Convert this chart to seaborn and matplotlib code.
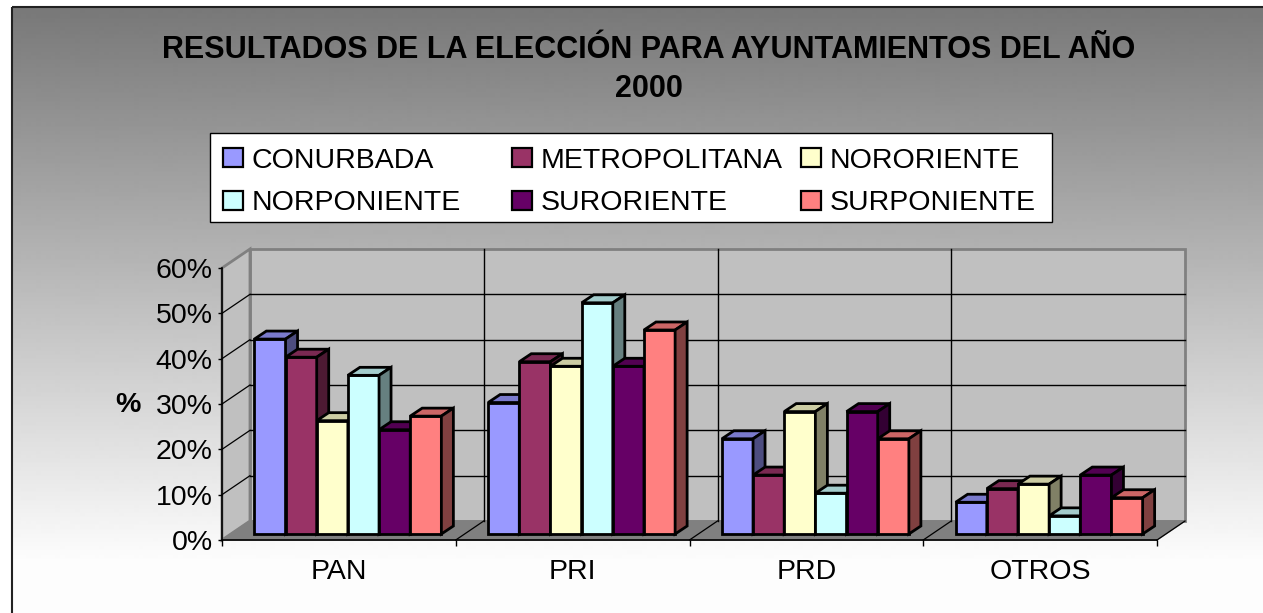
import numpy as np
import pandas as pd
import matplotlib
matplotlib.use("Agg")
import matplotlib.pyplot as plt
from matplotlib.patches import Polygon, Rectangle
from matplotlib.transforms import Affine2D
from matplotlib.colors import to_rgb
import seaborn as sns

plt.rcParams['font.family'] = ['Liberation Sans', 'DejaVu Sans']

# datos (%)
partidos = ["PAN", "PRI", "PRD", "OTROS"]
regiones = ["CONURBADA", "METROPOLITANA", "NORORIENTE",
            "NORPONIENTE", "SURORIENTE", "SURPONIENTE"]
conurbada = [43, 29, 21, 7]
metropolitana = [39, 38, 13, 10]
nororiente = [25, 37, 27, 11]
norponiente = [35, 51, 9, 4]
suroriente = [23, 37, 27, 13]
surponiente = [26, 45, 21, 8]
colores = ["#9999FF", "#993366", "#FFFFCC", "#CCFFFF", "#660066", "#FF8080"]
yticks = [0, 10, 20, 30, 40, 50, 60]
titulo = ["RESULTADOS DE LA ELECCIÓN PARA AYUNTAMIENTOS DEL AÑO", "2000"]

valores = [conurbada, metropolitana, nororiente, norponiente, suroriente, surponiente]
df = pd.DataFrame([(p, r, v[i]) for r, v in zip(regiones, valores)
                   for i, p in enumerate(partidos)],
                  columns=["partido", "region", "valor"])

FS = 20.5
W, H = 1263, 613
fig = plt.figure(figsize=(W / 100, H / 100), dpi=100)

# fondo con degradado, en pixeles
bg = fig.add_axes([0, 0, 1, 1])
filas = np.arange(7, H)
grad = np.clip(0.47 + 0.52 * (filas - 7) / 553, 0, 0.99)
bg.imshow(grad[:, None], cmap="gray", vmin=0, vmax=1, aspect="auto",
          extent=[12, W, H, 7], interpolation="bilinear")
bg.set_xlim(0, W)
bg.set_ylim(H, 0)
bg.axis("off")
bg.add_patch(Rectangle((12, 7), W, H, fill=False, ec="#222222", lw=1.5))

# titulo
bg.text(649, 58, titulo[0], ha="center", va="baseline", fontsize=22, fontweight="bold")
bg.text(649, 97, titulo[1], ha="center", va="baseline", fontsize=22, fontweight="bold")

# leyenda
bg.add_patch(Rectangle((210, 133), 842, 89, fc="white", ec="black", lw=1))
col_x = [223, 512, 801]
fila_y = [157.5, 200.5]
for k, (reg, c) in enumerate(zip(regiones, colores)):
    mx = col_x[k % 3]
    cy = fila_y[k // 3]
    bg.add_patch(Rectangle((mx, cy - 9.5), 20, 19, fc=c, ec="black", lw=1.6))
    bg.text(mx + 28.5, cy + 10, reg, ha="left", va="baseline", fontsize=FS)

# ejes principales: plano frontal
ax = fig.add_axes([222 / W, 73 / H, 935 / W, 272 / H])
ax.patch.set_alpha(0)
sns.barplot(data=df, x="partido", y="valor", hue="region", order=partidos,
            hue_order=regiones, palette=colores, saturation=1, width=0.8,
            edgecolor="black", linewidth=2, legend=False, ax=ax)
ax.set_xlim(-0.5, 3.5)
ax.set_ylim(0, 60)
barras = sorted(ax.patches, key=lambda p: p.get_x())

ux, uy = 935 / 4, 272 / 60
fx, fy = 28 / ux, 19 / uy      # profundidad de las paredes
sx, sy = 9 / ux, 6 / uy        # posicion de las barras en profundidad
bx, by = 12 / ux, 8 / uy       # grosor de las barras

# paredes y piso
ax.add_patch(Rectangle((-0.5 + fx, fy), 4, 60, fc="#C0C0C0", ec="#808080",
                       lw=2, zorder=0.2, clip_on=False))
ax.add_patch(Polygon([(-0.5, 0), (-0.5, 60), (-0.5 + fx, 60 + fy), (-0.5 + fx, fy)],
                     fc="#C0C0C0", ec="#808080", lw=2, zorder=0.2, clip_on=False))
ax.add_patch(Polygon([(-0.5, 0), (3.5, 0), (3.5 + fx, fy), (-0.5 + fx, fy)],
                     fc="#808080", ec="#808080", lw=1, zorder=0.25, clip_on=False))
for v in yticks[1:-1]:
    ax.plot([-0.5 + fx, 3.5 + fx], [v + fy, v + fy], color="black", lw=1, zorder=0.3, clip_on=False)
    ax.plot([-0.5, -0.5 + fx], [v, v + fy], color="black", lw=0.9, zorder=0.3, clip_on=False)
for xb in [0.5, 1.5, 2.5]:
    ax.plot([xb + fx, xb + fx], [fy, 60 + fy], color="black", lw=1, zorder=0.3, clip_on=False)
    ax.plot([xb, xb + fx], [0, fy], color="black", lw=0.9, zorder=0.3, clip_on=False)
ax.plot([3.5, 3.5 + fx], [0, fy], color="black", lw=0.9, zorder=0.3, clip_on=False)

# barras en 3D
for j, p in enumerate(barras):
    z = 10 + 3 * j
    rgb = np.array(to_rgb(p.get_facecolor()))
    x0 = p.get_x() + sx
    x1 = x0 + p.get_width()
    y0 = sy
    y1 = sy + p.get_height()
    p.set_transform(Affine2D().translate(sx, sy) + ax.transData)
    p.set_zorder(z)
    p.set_clip_on(False)
    ax.add_patch(Polygon([(x0, y1), (x1, y1), (x1 + bx, y1 + by), (x0 + bx, y1 + by)],
                         fc=rgb * 0.8, ec="black", lw=2, zorder=z + 1, clip_on=False))
    ax.add_patch(Polygon([(x1, y0), (x1 + bx, y0 + by), (x1 + bx, y1 + by), (x1, y1)],
                         fc=rgb * 0.5, ec="black", lw=2, zorder=z + 1, clip_on=False))

# ejes
for s in ["top", "right"]:
    ax.spines[s].set_visible(False)
for s in ["left", "bottom"]:
    ax.spines[s].set_color("black")
    ax.spines[s].set_linewidth(1.2)
ax.set_yticks(yticks, [f"{v}%" for v in yticks])
ax.tick_params(axis="y", length=3, width=1, pad=3.6, labelsize=FS, color="black")
ax.set_xticks(range(len(partidos)), partidos)
ax.set_xticks([-0.5, 0.5, 1.5, 2.5, 3.5], minor=True)
ax.tick_params(axis="x", which="major", length=0, pad=14, labelsize=FS)
ax.tick_params(axis="x", which="minor", length=4.3, width=1, color="black")
ax.set_xlabel("")
ax.set_ylabel("%", rotation=0, fontsize=FS, fontweight="bold", va="center", ha="center")
ax.yaxis.set_label_coords((128 - 222) / 935, (540 - 405) / 272)

fig.savefig("out.png", dpi=100)
